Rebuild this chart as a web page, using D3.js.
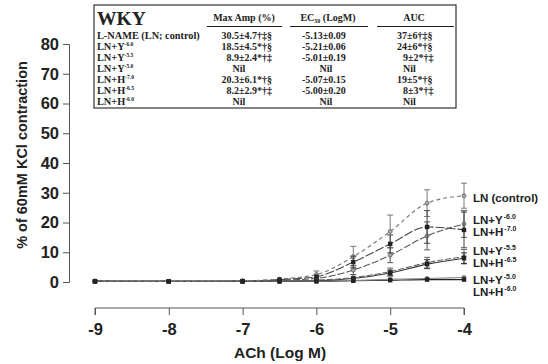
<!DOCTYPE html>
<html>
<head>
<meta charset="utf-8">
<script src="https://cdn.jsdelivr.net/npm/d3@7"></script>
<style>
  body { margin: 0; background: #fff; }
  svg { display: block; }
  .tick text { font-family: "Liberation Sans", Arial, sans-serif; font-weight: bold; }
</style>
</head>
<body>
<svg id="chart" width="548" height="364"></svg>
<script>
// concentrations of ACh (log M)
const concentrations = [-9, -8, -7, -6.5, -6, -5.5, -5, -4.5, -4];

// % of 60mM KCl contraction
const lnControl    = [0.3, 0.2, 0.4, 1.0, 2.5, 8.5, 17.0, 26.5, 29.0];
const lnControlSem = [0.3, 0.2, 0.3, 0.6, 1.2, 3.5, 5.5, 4.5, 4.2];
const lnY60        = [0.3, 0.2, 0.3, 0.6, 1.2, 4.0, 9.0, 15.5, 19.5];
const lnY60Sem     = [0.2, 0.2, 0.2, 0.4, 0.8, 1.5, 2.5, 4.7, 4.5];
const lnH70        = [0.3, 0.2, 0.3, 0.8, 1.8, 6.7, 12.8, 18.5, 17.5];
const lnH70Sem     = [0.2, 0.2, 0.2, 0.5, 0.8, 2.0, 3.0, 5.5, 6.0];
const lnY55        = [0.2, 0.2, 0.2, 0.3, 0.6, 1.5, 3.5, 6.5, 8.5];
const lnY55Sem     = [0.2, 0.2, 0.2, 0.2, 0.4, 0.8, 1.2, 1.8, 2.4];
const lnH65        = [0.2, 0.2, 0.2, 0.3, 0.5, 1.2, 3.0, 6.0, 8.0];
const lnH65Sem     = [0.2, 0.2, 0.2, 0.2, 0.4, 0.6, 1.0, 1.5, 1.8];
const lnY50        = [0.2, 0.2, 0.2, 0.2, 0.3, 0.5, 0.9, 1.2, 1.5];
const lnY50Sem     = [0.1, 0.1, 0.1, 0.1, 0.2, 0.3, 0.5, 0.6, 0.6];
const lnH60        = [0.2, 0.2, 0.2, 0.2, 0.2, 0.4, 0.6, 0.8, 0.8];
const lnH60Sem     = [0.1, 0.1, 0.1, 0.1, 0.2, 0.3, 0.4, 0.5, 0.5];

const yTicks = [0, 10, 20, 30, 40, 50, 60, 70, 80];
const xTicks = [-9, -8, -7, -6, -5, -4];

// inset table
const tableRows   = ["L-NAME (LN; control)", "LN+Y", "LN+Y", "LN+Y", "LN+H", "LN+H", "LN+H"];
const tableSups   = ["", "-6.0", "-5.5", "-5.0", "-7.0", "-6.5", "-6.0"];
const tableMaxAmp = ["30.5±4.7†‡§", "18.5±4.5*†§", "8.9±2.4*†‡", "Nil", "20.3±6.1*†§", "8.2±2.9*†‡", "Nil"];
const tableEC50   = ["-5.13±0.09", "-5.21±0.06", "-5.01±0.19", "Nil", "-5.07±0.15", "-5.00±0.20", "Nil"];
const tableAUC    = ["37±6†‡§", "24±6*†§", "9±2*†‡", "Nil", "19±5*†§", "8±3*†‡", "Nil"];

const series = [
    {name: "LN (control)", base: "LN (control)", sup: "", values: lnControl, sem: lnControlSem, dash: "4,3", stroke: "#777", marker: "circle", fill: "#aaa", labelY: 198},
    {name: "LN+Y-6.0", base: "LN+Y", sup: "-6.0", values: lnY60, sem: lnY60Sem, dash: "7,2", stroke: "#555", marker: "circle", fill: "#aaa", labelY: 220},
    {name: "LN+H-7.0", base: "LN+H", sup: "-7.0", values: lnH70, sem: lnH70Sem, dash: "9,2", stroke: "#444", marker: "square", fill: "#222", labelY: 232},
    {name: "LN+Y-5.5", base: "LN+Y", sup: "-5.5", values: lnY55, sem: lnY55Sem, dash: "6,2", stroke: "#666", marker: "circle", fill: "#888", labelY: 251},
    {name: "LN+H-6.5", base: "LN+H", sup: "-6.5", values: lnH65, sem: lnH65Sem, dash: null, stroke: "#333", marker: "square", fill: "#222", labelY: 263},
    {name: "LN+Y-5.0", base: "LN+Y", sup: "-5.0", values: lnY50, sem: lnY50Sem, dash: null, stroke: "#888", marker: "circle", fill: "#777", labelY: 280},
    {name: "LN+H-6.0", base: "LN+H", sup: "-6.0", values: lnH60, sem: lnH60Sem, dash: null, stroke: "#222", marker: "square", fill: "#222", labelY: 292}
];

const svg = d3.select("#chart");
const x = d3.scaleLinear().domain([-9, -4]).range([95, 464]);
const y = d3.scaleLinear().domain([0, 80]).range([282, 44]);

// y axis
const yAxis = svg.append("g")
    .attr("transform", "translate(69,0)")
    .call(d3.axisLeft(y).tickValues(yTicks).tickSize(6).tickPadding(4));
yAxis.selectAll("text").attr("font-size", 16.5).attr("fill", "#222");
yAxis.selectAll("line, path").attr("stroke", "#555");

// x axis, dropped below the plot
const xAxis = svg.append("g")
    .attr("transform", "translate(0,308)")
    .call(d3.axisBottom(x).tickValues(xTicks).tickSize(7).tickPadding(8).tickFormat(d => d));
xAxis.select(".domain").attr("d", `M${x(-9)},7V0H${x(-4)}V7`);
xAxis.selectAll("text").attr("font-size", 16.5).attr("fill", "#222");
xAxis.selectAll("line, path").attr("stroke", "#555");

svg.append("text")
    .attr("x", 280).attr("y", 358)
    .attr("text-anchor", "middle")
    .attr("font-family", "Liberation Sans, Arial, sans-serif")
    .attr("font-weight", "bold").attr("font-size", 15.5).attr("fill", "#222")
    .text("ACh (Log M)");

svg.append("text")
    .attr("transform", "translate(27,155) rotate(-90)")
    .attr("text-anchor", "middle")
    .attr("font-family", "Liberation Sans, Arial, sans-serif")
    .attr("font-weight", "bold").attr("font-size", 14.5).attr("fill", "#222")
    .text("% of 60mM KCl contraction");

// curves
const line = d3.line()
    .x((d, i) => x(concentrations[i]))
    .y(d => y(d))
    .curve(d3.curveMonotoneX);

const plot = svg.append("g");

series.slice().reverse().forEach(s => {
    plot.append("path")
        .attr("d", line(s.values))
        .attr("fill", "none")
        .attr("stroke", s.stroke)
        .attr("stroke-width", 1.1)
        .attr("stroke-dasharray", s.dash);
});

// error bars and markers
series.forEach(s => {
    const g = plot.append("g").attr("stroke", s.stroke).attr("stroke-width", 1);
    s.values.forEach((v, i) => {
        const cx = x(concentrations[i]);
        const top = y(v + s.sem[i]);
        const bot = y(Math.max(0, v - s.sem[i]));
        if (s.sem[i] > 0.9) {
            g.append("line").attr("x1", cx).attr("x2", cx).attr("y1", top).attr("y2", bot);
            g.append("line").attr("x1", cx - 3).attr("x2", cx + 3).attr("y1", top).attr("y2", top);
            g.append("line").attr("x1", cx - 3).attr("x2", cx + 3).attr("y1", bot).attr("y2", bot);
        }
        if (s.marker === "square") {
            plot.append("rect")
                .attr("x", cx - 2.2).attr("y", y(v) - 2.2)
                .attr("width", 4.4).attr("height", 4.4)
                .attr("fill", s.fill);
        } else {
            plot.append("circle")
                .attr("cx", cx).attr("cy", y(v)).attr("r", 2)
                .attr("fill", s.fill).attr("stroke", "#444").attr("stroke-width", 0.6);
        }
    });
});

// series labels on the right
const labels = svg.append("g")
    .attr("font-family", "Liberation Sans, Arial, sans-serif")
    .attr("font-weight", "bold").attr("fill", "#222");
series.forEach(s => {
    const t = labels.append("text")
        .attr("x", 473).attr("y", s.labelY + 4)
        .attr("font-size", 11.5);
    t.append("tspan").text(s.base);
    if (s.sup) {
        t.append("tspan").attr("font-size", 7).attr("dy", -5).attr("dx", 1).text(s.sup);
    }
});

// inset table
const table = svg.append("g")
    .attr("font-family", "Liberation Serif, 'Times New Roman', serif")
    .attr("font-weight", "bold").attr("fill", "#222");

table.append("rect")
    .attr("x", 94).attr("y", 5).attr("width", 362).attr("height", 103)
    .attr("fill", "#fff").attr("stroke", "#333").attr("stroke-width", 1.2);

table.append("text").attr("x", 97).attr("y", 25).attr("font-size", 19.5).text("WKY");

const header = [
    {text: "Max Amp (%)", cx: 244, x1: 207, x2: 282},
    {text: "EC", sub: "50", tail: " (LogM)", cx: 328, x1: 290, x2: 368},
    {text: "AUC", cx: 414, x1: 377, x2: 454}
];
header.forEach(h => {
    const t = table.append("text")
        .attr("x", h.cx).attr("y", 21)
        .attr("text-anchor", "middle").attr("font-size", 10);
    t.append("tspan").text(h.text);
    if (h.sub) {
        t.append("tspan").attr("font-size", 6).attr("dy", 2).text(h.sub);
        t.append("tspan").attr("dy", -2).text(h.tail);
    }
    table.append("line")
        .attr("x1", h.x1).attr("x2", h.x2).attr("y1", 26.5).attr("y2", 26.5)
        .attr("stroke", "#222").attr("stroke-width", 1.2);
});

tableRows.forEach((r, i) => {
    const by = 38.5 + i * 11.1;
    const t = table.append("text").attr("x", 97).attr("y", by).attr("font-size", 10.3);
    t.append("tspan").text(r);
    if (tableSups[i]) {
        t.append("tspan").attr("font-size", 5.5).attr("dy", -4).text(tableSups[i]);
    }

    const amp = tableMaxAmp[i];
    table.append("text")
        .attr("x", amp === "Nil" ? 239 : 272).attr("y", by)
        .attr("text-anchor", amp === "Nil" ? "middle" : "end")
        .attr("font-size", 10).text(amp);

    const ec = tableEC50[i];
    table.append("text")
        .attr("x", ec === "Nil" ? 326 : 302).attr("y", by)
        .attr("text-anchor", ec === "Nil" ? "middle" : "start")
        .attr("font-size", 10).text(ec);

    const auc = tableAUC[i];
    const short = auc === "Nil" || +auc.split("±")[0] < 10;
    table.append("text")
        .attr("x", short ? 403 : 397).attr("y", by)
        .attr("font-size", 10).text(auc);
});
</script>
</body>
</html>
